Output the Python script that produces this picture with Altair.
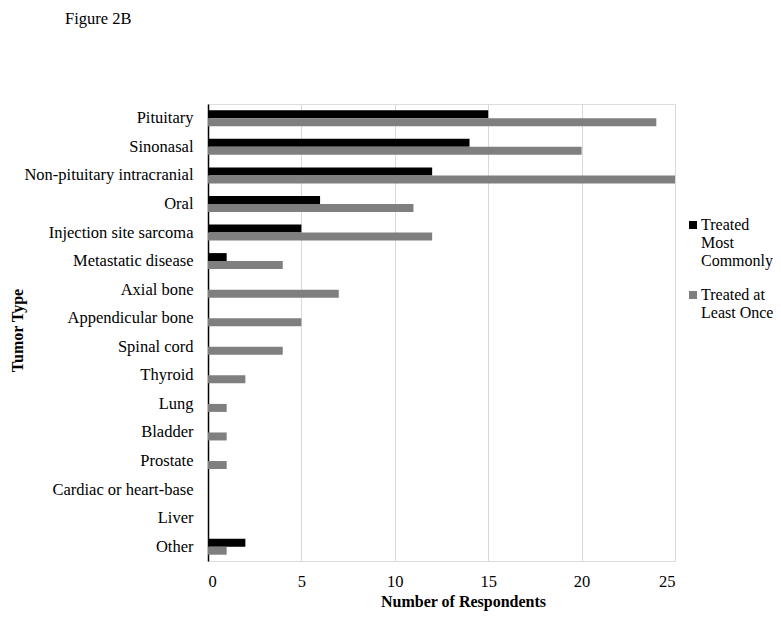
import altair as alt
import pandas as pd

categories = [
    "Pituitary", "Sinonasal", "Non-pituitary intracranial", "Oral\u00a0",
    "Injection site sarcoma", "Metastatic disease", "Axial bone",
    "Appendicular bone", "Spinal cord\u00a0", "Thyroid", "Lung", "Bladder",
    "Prostate", "Cardiac or heart-base", "Liver", "Other\u00a0",
]
most_commonly = [15, 14, 12, 6, 5, 1, 0, 0, 0, 0, 0, 0, 0, 0, 0, 2]
at_least_once = [24, 20, 25, 11, 12, 4, 7, 5, 4, 2, 1, 1, 1, 0, 0, 1]
series = ["Treated Most Commonly", "Treated at Least Once"]
colors = ["#000000", "#7f7f7f"]
x_ticks = [0, 5, 10, 15, 20, 25]

df = pd.DataFrame({
    "Tumor Type": categories * 2,
    "Series": [series[0]] * len(categories) + [series[1]] * len(categories),
    "Value": most_commonly + at_least_once,
})

FONT = "Liberation Serif"

chart = alt.Chart(df).mark_bar().encode(
    y=alt.Y(
        "Tumor Type:N",
        sort=categories,
        scale=alt.Scale(paddingInner=0.44, paddingOuter=0.22),
        axis=alt.Axis(
            title="Tumor Type",
            titleFont=FONT, titleFontSize=16, titleFontWeight="bold", titleColor="#000000",
            titleX=-191, titleY=226, titleAngle=-90, titleBaseline="middle", titleAlign="center",
            labelFont=FONT, labelFontSize=16.5, labelColor="#000000", labelPadding=15,
            ticks=False, tickSize=0, grid=False,
            domain=True, domainColor="#000000", domainWidth=1.5,
            labelLimit=400,
        ),
    ),
    yOffset=alt.YOffset("Series:N", sort=series, scale=alt.Scale(paddingInner=0, paddingOuter=0)),
    x=alt.X(
        "Value:Q",
        scale=alt.Scale(domain=[0, 25], nice=False, zero=True),
        axis=alt.Axis(
            values=x_ticks,
            title="Number of Respondents",
            titleFont=FONT, titleFontSize=16, titleFontWeight="bold", titleColor="#000000",
            titleX=255, titleY=40, titleBaseline="middle", titleAlign="center",
            labelFont=FONT, labelFontSize=16.5, labelColor="#000000", labelPadding=12,
            ticks=False, tickSize=0,
            domain=False,
            grid=True, gridColor="#d9d9d9", gridWidth=1,
        ),
    ),
    color=alt.Color(
        "Series:N",
        scale=alt.Scale(domain=series, range=colors),
        legend=alt.Legend(
            title=None,
            orient="none",
            legendX=477,
            legendY=113,
            labelFont=FONT, labelFontSize=16, labelColor="#000000",
            labelExpr="datum.label == 'Treated Most Commonly' ? ['Treated', 'Most', 'Commonly'] : ['Treated at', 'Least Once']",
            labelBaseline="middle",
            symbolType="square", symbolSize=64, symbolStrokeWidth=0,
            rowPadding=18, padding=0, labelOffset=0,
        ),
    ),
).properties(
    width=467,
    height=457,
    padding={"left": 200, "top": 96, "right": 98, "bottom": 54},
    autosize=alt.AutoSizeParams(type="none"),
    title=alt.TitleParams(
        text="Figure 2B",
        font=FONT, fontSize=16.5, fontWeight="normal", color="#000000",
        anchor="start", frame="group", dx=-143, offset=77, baseline="top",
    ),
).configure_view(stroke=None).configure(background="#ffffff")

chart.save("out.html", embed_options={"renderer": "svg", "actions": False})
